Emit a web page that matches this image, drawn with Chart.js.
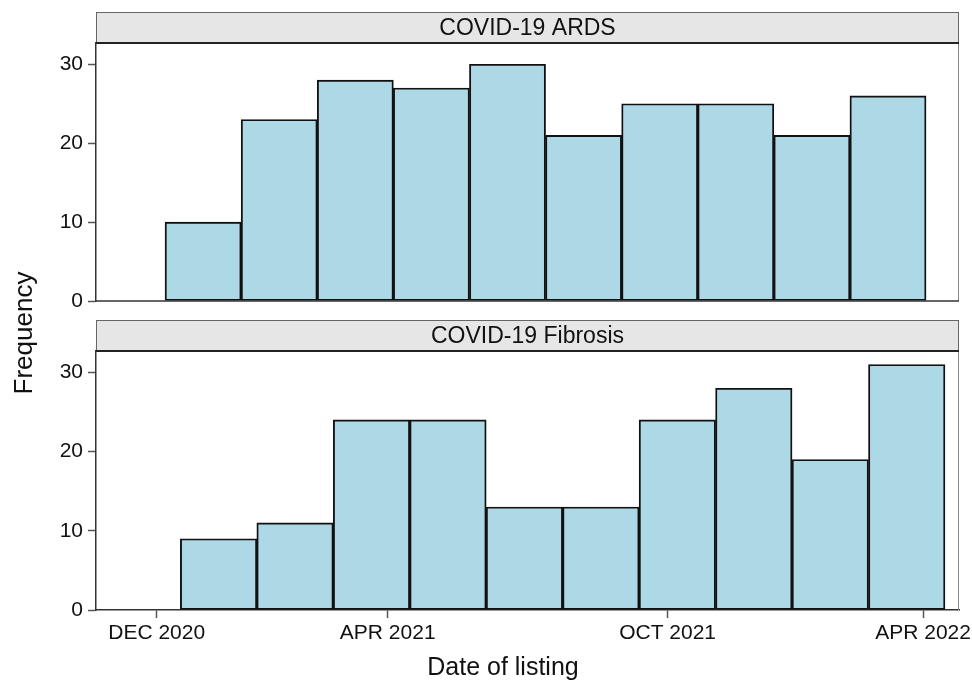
<!DOCTYPE html>
<html>
<head>
<meta charset="utf-8">
<script src="https://cdn.jsdelivr.net/npm/chart.js@4"></script>
<style>
  html, body { margin: 0; padding: 0; background: #fff; }
  #wrap { position: relative; width: 972px; height: 682px; }
  canvas { position: absolute; left: 0; }
  #c2 { top: 0; }
  #c1 { top: 0; z-index: 2; }
</style>
</head>
<body>
<div id="wrap">
  <canvas id="c2" width="972" height="682"></canvas>
  <canvas id="c1" width="972" height="310"></canvas>
</div>
<script>
// ---- Data (x in days after 1 Dec 2020) ----
const panelNames = ['COVID-19 ARDS', 'COVID-19 Fibrosis'];
const ardsCounts = [10, 23, 28, 27, 30, 21, 25, 25, 21, 26];
const fibrosisCounts = [9, 11, 24, 24, 13, 13, 24, 28, 19, 31];
const ardsBinStart = 5.3;      // first bin edge, days
const ardsBinWidth = 48.26;    // days per bin
const fibrosisBinStart = 15.0;
const fibrosisBinWidth = 48.49;
const xTickValues = [0, 146.5, 324, 486];
const xTickLabels = ['DEC 2020', 'APR 2021', 'OCT 2021', 'APR 2022'];
const xRange = [-38.5, 508.8];
const yTickValues = [0, 10, 20, 30];
const yMax = 32.7;
const xTitle = 'Date of listing';
const yTitle = 'Frequency';

Chart.defaults.font.family = '"Liberation Sans", Arial, Helvetica, sans-serif';
Chart.defaults.color = '#111';

function binPoints(start, width, counts) {
  return counts.map((c, i) => ({ x: start + (i + 0.5) * width, y: c }));
}

const panelDecor = {
  id: 'panelDecor',
  afterDatasetsDraw(chart, args, opts) {
    const { ctx, chartArea: a } = chart;
    ctx.save();
    // right frame
    ctx.strokeStyle = '#888';
    ctx.lineWidth = 1;
    ctx.beginPath();
    ctx.moveTo(a.right - 0.5, a.top);
    ctx.lineTo(a.right - 0.5, a.bottom);
    ctx.stroke();
    if (opts.bottomLine) {
      ctx.strokeStyle = '#333';
      ctx.lineWidth = 1.5;
      ctx.beginPath();
      ctx.moveTo(a.left, a.bottom);
      ctx.lineTo(a.right, a.bottom);
      ctx.stroke();
    }
    // strip
    const h = opts.stripHeight;
    ctx.fillStyle = '#e6e6e6';
    ctx.fillRect(a.left, a.top - h, a.right - a.left, h);
    ctx.strokeStyle = '#666';
    ctx.lineWidth = 1;
    ctx.strokeRect(a.left + 0.5, a.top - h + 0.5, a.right - a.left - 1, h);
    ctx.strokeStyle = '#222';
    ctx.lineWidth = 2;
    ctx.beginPath();
    ctx.moveTo(a.left, a.top);
    ctx.lineTo(a.right, a.top);
    ctx.stroke();
    ctx.fillStyle = '#111';
    ctx.font = '23px "Liberation Sans", Arial, sans-serif';
    ctx.textAlign = 'center';
    ctx.textBaseline = 'middle';
    ctx.fillText(opts.label, (a.left + a.right) / 2, a.top - h / 2 + 1);
    // outer titles
    if (opts.xTitle) {
      ctx.font = '25px "Liberation Sans", Arial, sans-serif';
      ctx.fillText(opts.xTitle, 503, 668);
    }
    if (opts.yTitle) {
      ctx.translate(25, 333);
      ctx.rotate(-Math.PI / 2);
      ctx.font = '26px "Liberation Sans", Arial, sans-serif';
      ctx.fillText(opts.yTitle, 0, 0);
    }
    ctx.restore();
  }
};

function makeChart(canvasId, counts, start, width, name, isBottom, padTop, padBottom) {
  return new Chart(document.getElementById(canvasId), {
    type: 'bar',
    data: {
      datasets: [{
        data: binPoints(start, width, counts),
        backgroundColor: '#add8e6',
        borderColor: '#111',
        borderWidth: 1.9,
        borderSkipped: false,
        barPercentage: 1,
        categoryPercentage: 1
      }]
    },
    options: {
      responsive: false,
      animation: false,
      devicePixelRatio: 1,
      layout: { padding: { top: padTop, right: 13, bottom: padBottom, left: 0 } },
      plugins: {
        legend: { display: false },
        tooltip: { enabled: false },
        panelDecor: {
          label: name,
          stripHeight: 31,
          bottomLine: !isBottom,
          xTitle: isBottom ? xTitle : null,
          yTitle: isBottom ? yTitle : null
        }
      },
      scales: {
        x: {
          type: 'linear',
          display: isBottom,
          offset: false,
          min: xRange[0],
          max: xRange[1],
          afterBuildTicks: s => { s.ticks = xTickValues.map(v => ({ value: v })); },
          afterFit: s => {
            if (isBottom) s.height = 72;
            s.paddingLeft = 0;
            s.paddingRight = 0;
          },
          ticks: {
            autoSkip: false,
            maxRotation: 0,
            font: { size: 21 },
            color: '#111',
            padding: 3,
            callback: (v, i) => xTickLabels[i]
          },
          grid: { offset: false, drawOnChartArea: false, tickLength: 8, tickColor: '#555', tickWidth: 1.5 },
          border: { color: '#333', width: 1.5 }
        },
        y: {
          min: 0,
          max: yMax,
          afterBuildTicks: s => { s.ticks = yTickValues.map(v => ({ value: v })); },
          afterFit: s => { s.width = 96; s.paddingTop = 0; s.paddingBottom = 0; },
          ticks: { font: { size: 21 }, color: '#111', padding: 5 },
          grid: { drawOnChartArea: false, tickLength: 8, tickColor: '#555', tickWidth: 1.5 },
          border: { color: '#333', width: 1.5 }
        }
      }
    },
    plugins: [panelDecor]
  });
}

makeChart('c1', ardsCounts, ardsBinStart, ardsBinWidth, panelNames[0], false, 43, 9);
makeChart('c2', fibrosisCounts, fibrosisBinStart, fibrosisBinWidth, panelNames[1], true, 351, 0);
</script>
</body>
</html>
